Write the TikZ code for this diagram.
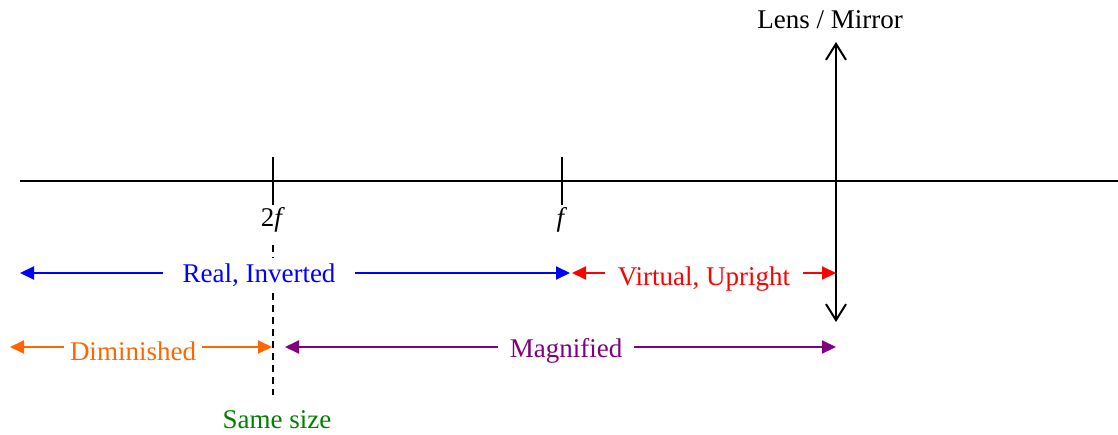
\documentclass[tikz,border=0pt]{standalone}
\usepackage{fontspec}
\setmainfont{Liberation Serif}
\usetikzlibrary{arrows.meta}
\definecolor{dimorange}{RGB}{255,102,0}
\definecolor{magpurple}{RGB}{128,0,128}
\definecolor{samegreen}{RGB}{0,128,0}

\begin{document}
\begin{tikzpicture}[
  x=0.5pt, y=-0.5pt,
  lbl/.style={font=\fontsize{13.5}{16}\selectfont, inner sep=0pt},
  gap/.style={lbl, fill=white, inner xsep=10pt, inner ysep=3pt},
  span/.style={line width=1pt, {Triangle[length=7pt,width=6.5pt]}-{Triangle[length=7pt,width=6.5pt]}},
  lensarrow/.style={line width=1pt, {Straight Barb[length=8pt,width=10pt]}-{Straight Barb[length=8pt,width=10pt]}},
  tick/.style={line width=1pt}
]
\useasboundingbox (0,0) rectangle (1118,434);

% principal axis and marks
\coordinate (axisL) at (20,181);
\coordinate (axisR) at (1118,181);
\draw[tick] (axisL) -- (axisR);
\draw[tick] (273,157) -- (273,205);
\draw[tick] (562,157) -- (562,205);
\node[lbl] (twof) at (273,220) {2\textit{f}};
\node[lbl] (onef) at (562,220) {\textit{f}};

% lens / mirror
\coordinate (lensB) at (836,322);
\coordinate (lensT) at (836,42);
\draw[lensarrow] (lensB) -- (lensT);
\node[lbl] (lens) at (830,20) {Lens / Mirror};

% same size line
\coordinate (ssT) at (273,245);
\coordinate (ssB) at (273,395);
\draw[line width=1pt, dash pattern=on 3.5pt off 2.5pt] (ssT) -- (ssB);
\node[lbl, text=samegreen] (same) at (277,420) {Same size};

% image ranges
\coordinate (riL) at (20,273);  \coordinate (riR) at (570,273);
\coordinate (vuL) at (572,273); \coordinate (vuR) at (836,273);
\coordinate (diL) at (10,347);  \coordinate (diR) at (272,347);
\coordinate (maL) at (285,347); \coordinate (maR) at (836,347);

\draw[span, blue] (riL) -- (riR);
\draw[span, red] (vuL) -- (vuR);
\draw[span, dimorange] (diL) -- (diR);
\draw[span, magpurple] (maL) -- (maR);

\node[gap, text=blue] (real) at (259,275) {Real, Inverted};
\node[gap, text=red, inner xsep=6.5pt] (virt) at (704,279) {Virtual, Upright};
\node[gap, text=dimorange, inner xsep=3pt] (dimi) at (133,351) {Diminished};
\node[gap, text=magpurple, inner xsep=6pt] (magn) at (566,351) {Magnified};

\end{tikzpicture}
\end{document}
